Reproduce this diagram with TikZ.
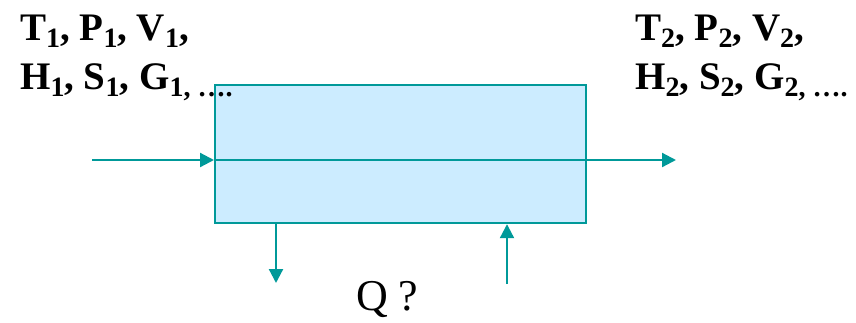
\documentclass[tikz,border=0pt]{standalone}
\usepackage{fontspec}
\setmainfont{Liberation Serif}
\usetikzlibrary{arrows.meta}
\definecolor{flowteal}{RGB}{0,153,153}
\definecolor{boxfill}{RGB}{204,236,255}
% lowered subscript in the text font
\newcommand{\lowsub}[1]{\raisebox{-0.2em}{\fontsize{28}{28}\selectfont #1}}
\tikzset{
  flow/.style={draw=flowteal, line width=2.2pt, -{Triangle[length=14pt,width=14pt]}},
  statetext/.style={font=\fontsize{39}{47}\selectfont\bfseries, inner sep=0pt, anchor=base west},
}
\begin{document}
\begin{tikzpicture}[x=1pt,y=-1pt]
  \useasboundingbox (0,0) rectangle (856,322);
  % control volume
  \node[draw=flowteal, fill=boxfill, line width=2.2pt, minimum width=371pt, minimum height=138pt, inner sep=0pt, anchor=north west] (cv) at (214,84) {};
  \coordinate (inlet) at (92,160);
  \coordinate (outlet) at (676,160);
  \coordinate (qout) at (276,283);
  \coordinate (qin) at (507,284);
  % stream through the volume
  \draw[flow] (inlet) -- (cv.west |- inlet);
  \draw[draw=flowteal, line width=2.2pt] (cv.west |- inlet) -- (cv.east |- inlet);
  \draw[flow] (cv.east |- inlet) -- (outlet);
  % heat exchange
  \draw[flow] (cv.south -| qout) -- (qout);
  \draw[flow] (qin) -- (cv.south -| qin);
  % state properties
  \node[statetext] (in1) at (20,40) {T\lowsub{1}, P\lowsub{1}, V\lowsub{1},};
  \node[statetext] (in2) at (20,89) {H\lowsub{1}, S\lowsub{1}, G\lowsub{1, ….}};
  \node[statetext] (out1) at (635,40) {T\lowsub{2}, P\lowsub{2}, V\lowsub{2},};
  \node[statetext] (out2) at (635,89) {H\lowsub{2}, S\lowsub{2}, G\lowsub{2, ….}};
  \node[font=\fontsize{44}{52}\selectfont, inner sep=0pt, anchor=base west] (q) at (356,310) {Q ?};
\end{tikzpicture}
\end{document}
